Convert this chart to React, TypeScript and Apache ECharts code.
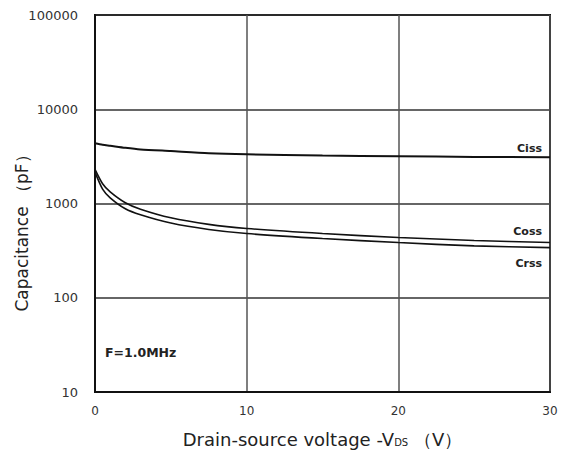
import React, { useEffect, useRef } from "react";
import * as echarts from "echarts";

const voltages = [0, 0.5, 1, 2, 3, 5, 7.5, 10, 15, 20, 25, 30];
const ciss = [4360, 4200, 4100, 3900, 3750, 3600, 3420, 3330, 3230, 3170, 3120, 3100];
const coss = [2300, 1620, 1330, 1020, 870, 705, 600, 543, 480, 436, 405, 385];
const crss = [2150, 1420, 1150, 880, 760, 620, 530, 480, 425, 385, 355, 340];
const yTicks = [10, 100, 1000, 10000, 100000];
const seriesNames = ["Ciss", "Coss", "Crss"];
const seriesLabelY = [148, 231, 263];

const FONT = "'DejaVu Sans', sans-serif";

export default function App() {
  const ref = useRef<HTMLDivElement>(null);
  useEffect(() => {
    if (!ref.current) return;
    const chart = echarts.init(ref.current, null, { renderer: "svg" });
    const mk = (vals: number[]) => voltages.map((v, i) => [v, vals[i]]);
    const all = [ciss, coss, crss];
    chart.setOption({
      animation: false,
      backgroundColor: "#fff",
      grid: {
        left: 95,
        right: 13,
        top: 15,
        bottom: 63,
        show: true,
        borderColor: "#111",
        borderWidth: 2,
      },
      xAxis: {
        type: "value",
        min: 0,
        max: 30,
        interval: 10,
        axisLine: { show: true, lineStyle: { color: "#111", width: 2 } },
        axisTick: { show: false },
        axisLabel: { color: "#333", fontSize: 12, fontFamily: FONT, margin: 13 },
        splitLine: { show: true, lineStyle: { color: "#555", width: 1.5 } },
        name: "Drain-source voltage -V{sub|DS} （V）",
        nameLocation: "middle",
        nameGap: 38,
        nameTextStyle: {
          color: "#222",
          fontSize: 18,
          fontFamily: FONT,
          rich: { sub: { fontSize: 10, color: "#222", fontFamily: FONT, padding: [6, 0, 0, 0] } },
        },
      },
      yAxis: {
        type: "log",
        logBase: 10,
        min: yTicks[0],
        max: yTicks[yTicks.length - 1],
        axisLine: { show: true, lineStyle: { color: "#111", width: 2 } },
        axisTick: { show: false },
        minorTick: { show: false },
        axisLabel: {
          color: "#333",
          fontSize: 13,
          fontFamily: FONT,
          margin: 17,
          formatter: (v: number) => String(Math.round(v)),
        },
        splitLine: { show: true, lineStyle: { color: "#333", width: 1.5 } },
      },
      graphic: [
        {
          type: "text",
          x: 22,
          y: 229,
          rotation: Math.PI / 2,
          style: {
            text: "Capacitance （pF）",
            fontSize: 17,
            fontFamily: FONT,
            fill: "#222",
            align: "center",
            verticalAlign: "middle",
          },
        },
        {
          type: "text",
          x: 105,
          y: 352,
          style: {
            text: "F=1.0MHz",
            fontSize: 12.5,
            fontWeight: "bold",
            fontFamily: FONT,
            fill: "#222",
            verticalAlign: "middle",
          },
        },
        ...seriesNames.map((name, i) => ({
          type: "text",
          x: 542,
          y: seriesLabelY[i],
          style: {
            text: name,
            fontSize: 11,
            fontWeight: "bold",
            fontFamily: FONT,
            fill: "#222",
            align: "right",
            verticalAlign: "middle",
          },
        })),
      ],
      series: seriesNames.map((name, i) => ({
        name,
        type: "line",
        data: mk(all[i]),
        smooth: 0.25,
        showSymbol: false,
        lineStyle: { color: "#111", width: i === 0 ? 2 : 1.6 },
      })),
    });
    return () => chart.dispose();
  }, []);
  return (
    <div
      ref={ref}
      style={{ position: "fixed", left: 0, top: 0, width: 563, height: 455, background: "#fff" }}
    />
  );
}
